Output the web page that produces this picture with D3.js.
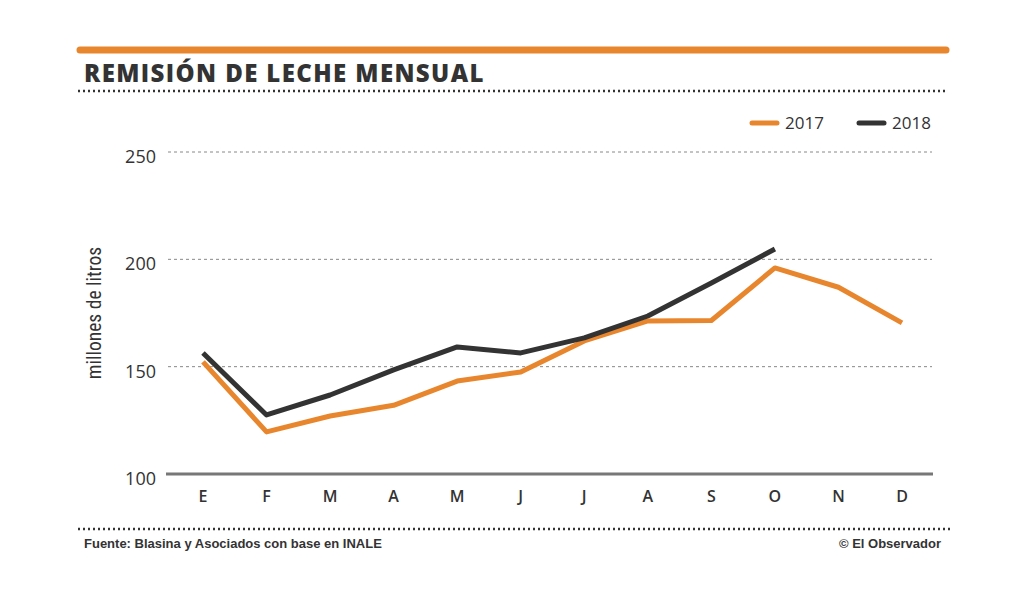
<!DOCTYPE html>
<meta charset="utf-8">
<head>
    <title>Remisión de leche mensual</title>
    <script src="https://cdnjs.cloudflare.com/ajax/libs/d3/7.8.5/d3.min.js"></script>
    <style>
        body { margin: 0; background: #fff; }
        text { font-family: "Open Sans", sans-serif; fill: #333; }
    </style>
</head>
<body>
<script>
    // data
    var months = ["E", "F", "M", "A", "M", "J", "J", "A", "S", "O", "N", "D"];
    var v2017 = [152.2, 119.6, 127, 132, 143.3, 147.5, 162, 171.3, 171.5, 196, 187, 170.4];
    var v2018 = [156.4, 127.5, 136.8, 148.5, 159.2, 156.4, 163.4, 173.6, 189, 204.8];
    var yTicks = [100, 150, 200, 250];
    var series = [
        {name: "2017", values: v2017, color: "#e8862e"},
        {name: "2018", values: v2018, color: "#333333"}
    ];

    var W = 1024, H = 597;
    var svg = d3.select("body").append("svg")
        .attr("width", W)
        .attr("height", H);

    // top orange bar + title
    svg.append("line")
        .attr("x1", 80).attr("x2", 946).attr("y1", 50).attr("y2", 50)
        .attr("stroke", "#e8862e").attr("stroke-width", 7).attr("stroke-linecap", "round");
    svg.append("text")
        .attr("x", 84).attr("y", 82)
        .style("font-size", "24px").style("font-weight", 800)
        .style("letter-spacing", "1.4px")
        .text("REMISIÓN DE LECHE MENSUAL");
    svg.append("line")
        .attr("x1", 78).attr("x2", 945).attr("y1", 91).attr("y2", 91)
        .attr("stroke", "#333").attr("stroke-width", 2.5).attr("stroke-dasharray", "2,3");

    // scales
    var x = d3.scalePoint().domain(d3.range(12)).range([203, 902]);
    var y = d3.scaleLinear().domain([100, 250]).range([474, 152]);

    // grid
    svg.append("g").selectAll("line")
        .data(yTicks.filter(function(d){ return d > 100; }))
        .enter().append("line")
        .attr("x1", 168).attr("x2", 932)
        .attr("y1", function(d){ return y(d); }).attr("y2", function(d){ return y(d); })
        .attr("stroke", "#888").attr("stroke-width", 1).attr("stroke-dasharray", "3,3");
    svg.append("line")
        .attr("x1", 166).attr("x2", 933).attr("y1", y(100)).attr("y2", y(100))
        .attr("stroke", "#777").attr("stroke-width", 3);

    svg.append("g").selectAll("text")
        .data(yTicks).enter().append("text")
        .attr("x", 156).attr("y", function(d){ return y(d) + 11; })
        .attr("text-anchor", "end")
        .style("font-size", "18px")
        .text(function(d){ return d; });

    svg.append("g").selectAll("text")
        .data(months).enter().append("text")
        .attr("x", function(d, i){ return x(i); }).attr("y", 502)
        .attr("text-anchor", "middle")
        .style("font-size", "16px").style("font-weight", 600)
        .text(function(d){ return d; });

    svg.append("text")
        .attr("transform", "translate(101,313) rotate(-90)")
        .attr("text-anchor", "middle")
        .style("font-family", "'Liberation Sans Narrow', 'Roboto Condensed', sans-serif")
        .style("font-size", "19.5px")
        .text("millones de litros");

    // lines
    var line = d3.line()
        .x(function(d, i){ return x(i); })
        .y(function(d){ return y(d); });
    svg.append("g").selectAll("path")
        .data(series).enter().append("path")
        .attr("d", function(d){ return line(d.values); })
        .attr("fill", "none")
        .attr("stroke", function(d){ return d.color; })
        .attr("stroke-width", 5)
        .attr("stroke-linejoin", "round");

    // legend
    var leg = svg.append("g").selectAll("g")
        .data(series).enter().append("g")
        .attr("transform", function(d, i){ return "translate(" + (752 + i * 107) + ",123)"; });
    leg.append("line")
        .attr("x1", 0).attr("x2", 25)
        .attr("stroke", function(d){ return d.color; })
        .attr("stroke-width", 5).attr("stroke-linecap", "round");
    leg.append("text")
        .attr("x", 33).attr("y", 6)
        .style("font-size", "17px")
        .text(function(d){ return d.name; });

    // footer
    svg.append("line")
        .attr("x1", 78).attr("x2", 950).attr("y1", 529).attr("y2", 529)
        .attr("stroke", "#333").attr("stroke-width", 2.5).attr("stroke-dasharray", "2,3");
    svg.append("text")
        .attr("x", 84).attr("y", 548)
        .style("font-family", "'Liberation Sans Narrow', sans-serif")
        .style("font-size", "13px").style("font-weight", "bold")
        .text("Fuente: Blasina y Asociados con base en INALE");
    svg.append("text")
        .attr("x", 941).attr("y", 548)
        .attr("text-anchor", "end")
        .style("font-family", "'Liberation Sans Narrow', sans-serif")
        .style("font-size", "13px").style("font-weight", "bold")
        .text("© El Observador");
</script>
</body>
</html>
